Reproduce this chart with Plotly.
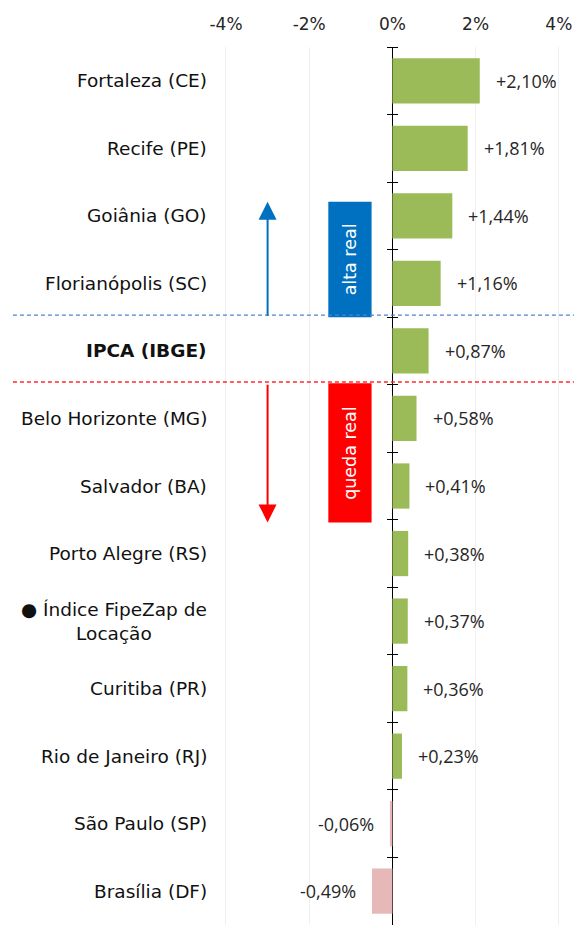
import plotly.graph_objects as go

categories = ["Fortaleza (CE)", "Recife (PE)", "Goiânia (GO)", "Florianópolis (SC)",
              "IPCA (IBGE)", "Belo Horizonte (MG)", "Salvador (BA)", "Porto Alegre (RS)",
              "Índice FipeZap de Locação", "Curitiba (PR)", "Rio de Janeiro (RJ)",
              "São Paulo (SP)", "Brasília (DF)"]
display_labels = ["Fortaleza (CE)", "Recife (PE)", "Goiânia (GO)", "Florianópolis (SC)",
                  "<b>IPCA (IBGE)</b>", "Belo Horizonte (MG)", "Salvador (BA)", "Porto Alegre (RS)",
                  "● Índice FipeZap de<br>Locação", "Curitiba (PR)", "Rio de Janeiro (RJ)",
                  "São Paulo (SP)", "Brasília (DF)"]
values = [2.10, 1.81, 1.44, 1.16, 0.87, 0.58, 0.41, 0.38, 0.37, 0.36, 0.23, -0.06, -0.49]
value_labels = ["+2,10%", "+1,81%", "+1,44%", "+1,16%", "+0,87%", "+0,58%", "+0,41%",
                "+0,38%", "+0,37%", "+0,36%", "+0,23%", "-0,06%", "-0,49%"]
x_ticks = [-4, -2, 0, 2, 4]
x_ticktext = ["-4%", "-2%", "0%", "2%", "4%"]

FONT = "DejaVu Sans"
NUMFONT = "Open Sans"
TXT = "#262626"
GREEN = "#9bbb59"
PINK = "#e6b8b7"

W, H = 574, 925
ML, MR, MT, MB = 215, 10, 47, 0
xr = [-4.264, 4.125]
n = len(categories)
yr = [n - 0.5, -0.5]

colors = [GREEN if v >= 0 else PINK for v in values]

fig = go.Figure()
fig.add_trace(go.Bar(
    x=values, y=categories, orientation="h", marker=dict(color=colors, line=dict(width=0)),
    width=0.67, hoverinfo="skip", showlegend=False,
))

# axis-crossing tick marks (right side)
fig.add_trace(go.Scatter(x=[None], y=[None], yaxis="y2", showlegend=False))

x0_paper = (0 - xr[0]) / (xr[1] - xr[0])

annotations = []
# value labels
for cat, v, t in zip(categories, values, value_labels):
    annotations.append(dict(
        x=v, y=cat, xref="x", yref="y", text=t, showarrow=False,
        xanchor="left" if v >= 0 else "right", xshift=14 if v >= 0 else -14,
        font=dict(family=NUMFONT, size=18, color=TXT),
    ))
# category labels
for cat, lab in zip(categories, display_labels):
    annotations.append(dict(
        x=0, y=cat, xref="paper", yref="y", text=lab, showarrow=False,
        xanchor="right", align="center", xshift=-6,
        font=dict(family=FONT, size=18.5, color="#111111"),
    ))

# boxes text
annotations.append(dict(x=-1.02, y=(1.79 + 3.5) / 2, xref="x", yref="y", text="alta real",
                        textangle=-90, showarrow=False,
                        font=dict(family=FONT, size=17.5, color="white")))
annotations.append(dict(x=-1.02, y=(4.48 + 6.54) / 2, xref="x", yref="y", text="queda real",
                        textangle=-90, showarrow=False,
                        font=dict(family=FONT, size=17.5, color="white")))
# arrows
annotations.append(dict(x=-3.0, y=1.79, ax=-3.0, ay=3.5, xref="x", yref="y",
                        axref="x", ayref="y", text="", showarrow=True,
                        arrowhead=2, arrowsize=1.8, arrowwidth=2, arrowcolor="#0070c0"))
annotations.append(dict(x=-3.0, y=6.54, ax=-3.0, ay=4.48, xref="x", yref="y",
                        axref="x", ayref="y", text="", showarrow=True,
                        arrowhead=2, arrowsize=1.8, arrowwidth=2, arrowcolor="#ff0000"))

shapes = [
    dict(type="rect", xref="x", yref="y", x0=-1.54, x1=-0.5, y0=1.79, y1=3.5,
         fillcolor="#0070c0", line=dict(width=0), layer="above"),
    dict(type="rect", xref="x", yref="y", x0=-1.54, x1=-0.5, y0=4.48, y1=6.54,
         fillcolor="#ff0000", line=dict(width=0), layer="above"),
    dict(type="line", xref="paper", yref="y", x0=-0.579, x1=1.05, y0=3.47, y1=3.47,
         line=dict(color="#4f81d0", width=1.3, dash="4px,3px")),
    dict(type="line", xref="paper", yref="y", x0=-0.579, x1=1.05, y0=4.46, y1=4.46,
         line=dict(color="#ff2a2a", width=1.3, dash="4px,3px")),
]

fig.update_layout(
    width=W, height=H,
    margin=dict(l=ML, r=MR, t=MT, b=MB, pad=0),
    paper_bgcolor="white", plot_bgcolor="white",
    font=dict(family=FONT, size=16, color=TXT),
    xaxis=dict(side="top", range=xr, tickvals=x_ticks, ticktext=x_ticktext,
               showgrid=True, gridcolor="#efefef", gridwidth=1,
               zeroline=True, zerolinecolor="black", zerolinewidth=1,
               showline=False, ticks="", ticklabelstandoff=13,
               tickfont=dict(family=FONT, size=17, color=TXT), fixedrange=True),
    yaxis=dict(type="category", categoryarray=categories, categoryorder="array",
               range=yr, showticklabels=False, showgrid=False, zeroline=False,
               showline=False, ticks="outside", tickson="boundaries", ticklen=5,
               tickcolor="black", tickwidth=1,
               anchor="free", position=x0_paper),
    yaxis2=dict(overlaying="y", side="right", anchor="free", position=x0_paper,
                range=yr, tickvals=[i - 0.5 for i in range(n + 1)],
                showticklabels=False, showgrid=False, zeroline=False, showline=False,
                ticks="outside", ticklen=5, tickcolor="black", tickwidth=1),
    annotations=annotations, shapes=shapes,
    showlegend=False,
)

fig.write_html("out.html", config={"displayModeBar": False},
               post_script="document.body.style.margin='0px';")
